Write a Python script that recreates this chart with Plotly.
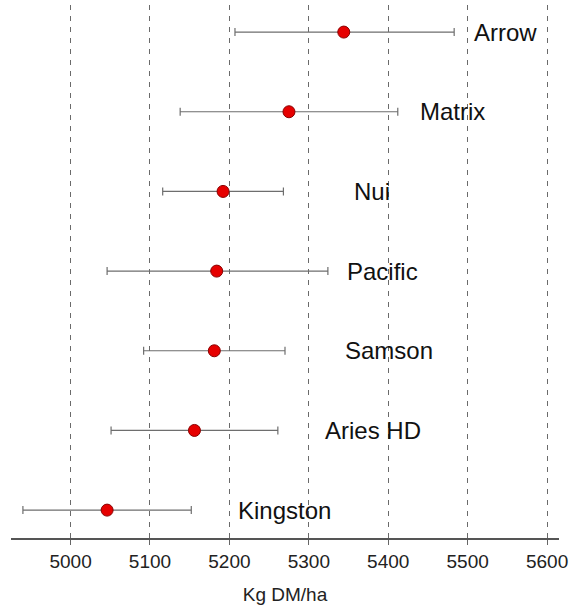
import plotly.graph_objects as go

varieties = ["Kingston", "Aries HD", "Samson", "Pacific", "Nui", "Matrix", "Arrow"]
means = [5046, 5156, 5181, 5184, 5192, 5275, 5344]
lower = [4940, 5051, 5092, 5046, 5116, 5138, 5207]
upper = [5152, 5261, 5270, 5324, 5268, 5412, 5483]
x_ticks = [5000, 5100, 5200, 5300, 5400, 5500, 5600]

ypos = list(range(len(varieties)))
err_plus = [u - m for u, m in zip(upper, means)]
err_minus = [m - l for m, l in zip(means, lower)]

FONT = "Liberation Sans, Arial, sans-serif"

fig = go.Figure()
fig.add_trace(go.Scatter(
    x=means, y=ypos, mode="markers",
    marker=dict(size=12, color="#e60000", line=dict(color="#8a0000", width=1)),
    error_x=dict(type="data", symmetric=False, array=err_plus, arrayminus=err_minus,
                 color="#6e6e6e", thickness=1.2, width=4),
    showlegend=False, hoverinfo="skip",
))

LABEL_OFFSET = 162
for v, m, y in zip(varieties, means, ypos):
    fig.add_annotation(x=m + LABEL_OFFSET, y=y, text=v, showarrow=False,
                       xanchor="left", yanchor="middle",
                       font=dict(family=FONT, size=24, color="#111111"))

fig.update_layout(
    width=572, height=608,
    margin=dict(l=11, r=13, t=5, b=70),
    plot_bgcolor="white", paper_bgcolor="white",
    font=dict(family=FONT, color="#222222"),
)
fig.update_xaxes(
    range=[4925, 5615], tickvals=x_ticks, ticktext=[str(t) for t in x_ticks],
    showgrid=True, gridcolor="#6a6a6a", gridwidth=1, griddash="5px,6px",
    showline=True, linecolor="#555555", linewidth=1.5,
    ticks="outside", ticklen=5, tickcolor="#666666", tickwidth=1,
    tickfont=dict(size=19, color="#222222"),
    title=dict(text="Kg DM/ha", font=dict(size=19, color="#222222"), standoff=17),
    zeroline=False,
)
fig.update_yaxes(
    range=[-0.35, 6.34], showgrid=False, showticklabels=False, zeroline=False,
    showline=False, ticks="",
)

fig.write_html("out.html", config={"displayModeBar": False},
               post_script="document.body.style.margin='0';document.body.style.overflow='hidden';")
